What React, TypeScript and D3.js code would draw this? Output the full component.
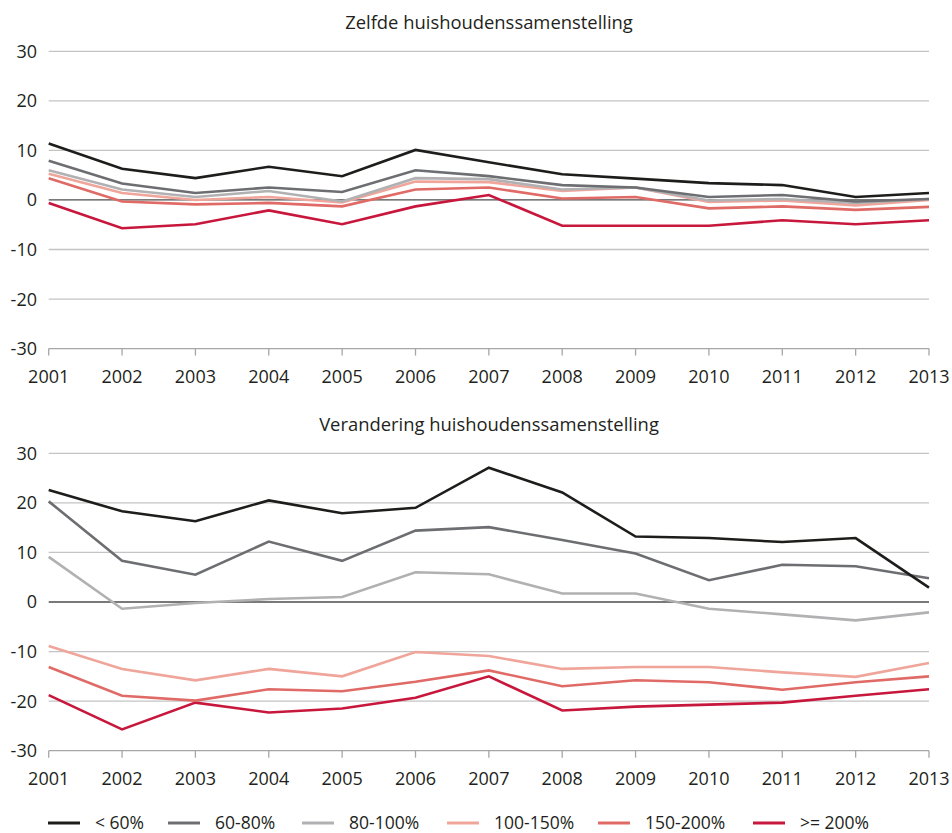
import React from "react";
import * as d3 from "d3";

const years = [2001, 2002, 2003, 2004, 2005, 2006, 2007, 2008, 2009, 2010, 2011, 2012, 2013];
const seriesNames = ["< 60%", "60-80%", "80-100%", "100-150%", "150-200%", ">= 200%"];
const seriesColors = ["#1d1d1b", "#6d6e71", "#b1b1b3", "#f0a59b", "#e06a66", "#c8173c"];
const yTicks = [30, 20, 10, 0, -10, -20, -30];

// Zelfde huishoudenssamenstelling
const same_lt60 = [11.4, 6.3, 4.4, 6.7, 4.8, 10.1, 7.6, 5.2, 4.3, 3.4, 3.0, 0.6, 1.4];
const same_60_80 = [7.9, 3.3, 1.4, 2.5, 1.6, 6.0, 4.8, 3.0, 2.5, 0.6, 1.0, -0.3, 0.2];
const same_80_100 = [6.0, 2.1, 0.6, 1.8, -0.3, 4.4, 4.2, 2.1, 2.5, -0.1, 0.2, -0.6, 0.2];
const same_100_150 = [5.3, 1.4, 0.0, 0.6, -0.5, 3.7, 3.6, 1.8, 2.5, -0.4, -0.1, -1.1, 0.0];
const same_150_200 = [4.4, -0.3, -0.9, -0.6, -1.3, 2.1, 2.5, 0.3, 0.6, -1.7, -1.3, -2.0, -1.4];
const same_ge200 = [-0.6, -5.7, -4.9, -2.1, -4.9, -1.3, 1.0, -5.2, -5.2, -5.2, -4.1, -4.9, -4.1];

// Verandering huishoudenssamenstelling
const chg_lt60 = [22.6, 18.3, 16.3, 20.5, 17.9, 19.0, 27.1, 22.1, 13.2, 12.9, 12.1, 12.9, 2.9];
const chg_60_80 = [20.3, 8.3, 5.5, 12.2, 8.3, 14.4, 15.1, 12.5, 9.8, 4.4, 7.5, 7.2, 4.8];
const chg_80_100 = [9.1, -1.35, -0.2, 0.6, 1.0, 6.0, 5.6, 1.7, 1.7, -1.35, -2.5, -3.7, -2.1];
const chg_100_150 = [-8.9, -13.5, -15.8, -13.5, -15.0, -10.1, -10.9, -13.5, -13.1, -13.1, -14.2, -15.1, -12.3];
const chg_150_200 = [-13.1, -18.9, -19.9, -17.6, -18.0, -16.1, -13.8, -17.0, -15.8, -16.2, -17.7, -16.2, -15.0];
const chg_ge200 = [-18.8, -25.7, -20.3, -22.3, -21.5, -19.3, -15.0, -21.9, -21.1, -20.7, -20.3, -18.9, -17.6];

const panelTitles = ["Zelfde huishoudenssamenstelling", "Verandering huishoudenssamenstelling"];
const panelSeries = [
  [same_lt60, same_60_80, same_80_100, same_100_150, same_150_200, same_ge200],
  [chg_lt60, chg_60_80, chg_80_100, chg_100_150, chg_150_200, chg_ge200],
];

const FONT = "'Open Sans', 'Noto Sans', sans-serif";
const W = 952;
const H = 833;
const X0 = 48.7;
const X1 = 929;

const panels = [
  { top: 51.3, bottom: 348.6, titleY: 29 },
  { top: 453.3, bottom: 750.7, titleY: 430.7 },
];

const legendX = [48, 168, 302, 447, 598, 753];

function Panel({ idx }: { idx: number }) {
  const p = panels[idx];
  const x = d3.scaleLinear().domain([years[0], years[years.length - 1]]).range([X0, X1]);
  const y = d3.scaleLinear().domain([-30, 30]).range([p.bottom, p.top]);
  const line = d3
    .line<number>()
    .x((_, i) => x(years[i]))
    .y((d) => y(d));
  const series = panelSeries[idx];
  return (
    <g>
      <text x={489} y={p.titleY} textAnchor="middle" fontSize={18.4} fill="#231f20" fontFamily={FONT}>
        {panelTitles[idx]}
      </text>
      {yTicks.map((t) => (
        <g key={t}>
          {t !== 0 && t !== -30 && (
            <line x1={X0} x2={X1} y1={y(t)} y2={y(t)} stroke="#c4c4c4" strokeWidth={1.3} />
          )}
          <text
            x={37}
            y={y(t)}
            dy="0.36em"
            textAnchor="end"
            fontSize={18}
            fill="#231f20"
            fontFamily={FONT}
          >
            {t}
          </text>
        </g>
      ))}
      <line x1={X0} x2={X1} y1={y(-30)} y2={y(-30)} stroke="#a6a6a6" strokeWidth={1.3} />
      {years.map((yr) => (
        <g key={yr}>
          <line x1={x(yr)} x2={x(yr)} y1={y(-30)} y2={y(-30) + 7} stroke="#a6a6a6" strokeWidth={1.3} />
          <text
            x={x(yr)}
            y={y(-30) + 34}
            textAnchor="middle"
            fontSize={18}
            fill="#231f20"
            fontFamily={FONT}
          >
            {yr}
          </text>
        </g>
      ))}
      <line x1={X0} x2={X1} y1={y(0)} y2={y(0)} stroke="#4d4d4d" strokeWidth={1.3} />
      {series
        .map((s, i) => ({ s, i }))
        .reverse()
        .map(({ s, i }) => (
          <path
            key={i}
            d={line(s) || ""}
            fill="none"
            stroke={seriesColors[i]}
            strokeWidth={2.6}
            strokeLinejoin="miter"
          />
        ))}
    </g>
  );
}

export default function App() {
  return (
    <svg
      width={W}
      height={H}
      viewBox={`0 0 ${W} ${H}`}
      style={{ position: "absolute", left: 0, top: 0, background: "#fff" }}
    >
      <rect x={0} y={0} width={W} height={H} fill="#fff" />
      <Panel idx={0} />
      <Panel idx={1} />
      {seriesNames.map((n, i) => (
        <g key={n}>
          <line
            x1={legendX[i]}
            x2={legendX[i] + 32}
            y1={823}
            y2={823}
            stroke={seriesColors[i]}
            strokeWidth={3}
          />
          <text x={legendX[i] + 47} y={829} fontSize={17.5} fill="#231f20" fontFamily={FONT}>
            {n}
          </text>
        </g>
      ))}
    </svg>
  );
}
